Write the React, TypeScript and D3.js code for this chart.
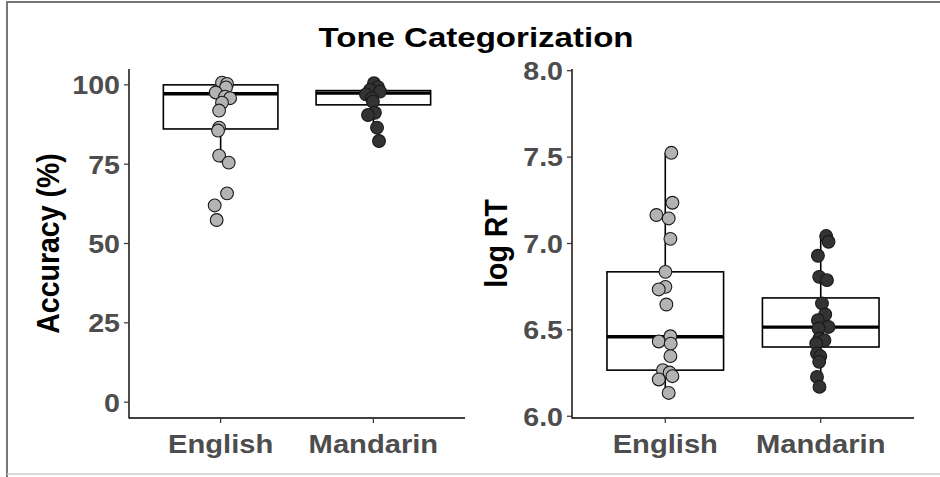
import React from 'react';
import * as d3 from 'd3';

// groups on the x axis
const categories = ['English', 'Mandarin'];

// accuracy (%) per participant
const accEnglish = [100.7, 100.3, 99.2, 97.6, 96.3, 95.8, 94.4, 91.9, 86.5, 85.6, 77.7, 75.5, 65.8, 62.0, 57.4];
const accEnglishJitter = [0.009, 0.042, 0.035, -0.032, 0.029, 0.062, 0.009, -0.01, -0.01, -0.017, -0.01, 0.053, 0.042, -0.039, -0.026];
const accMandarin = [100.5, 99.3, 98.4, 97.9, 97.0, 95.8, 94.7, 91.2, 90.5, 86.5, 82.3];
const accMandarinJitter = [0.004, 0.03, -0.022, 0.043, -0.048, -0.009, -0.003, 0.01, -0.035, 0.024, 0.037];

// box stats for accuracy, [English, Mandarin]
const accLow = [75.5, 86.5];
const accQ1 = [86.1, 93.7];
const accMedian = [97.2, 97.4];
const accQ3 = [100, 98.2];
const accHigh = [100, 100.5];
const accTicks = [0, 25, 50, 75, 100];

// log RT per participant
const rtEnglish = [7.525, 7.236, 7.165, 7.145, 7.027, 6.836, 6.749, 6.734, 6.647, 6.463, 6.433, 6.42, 6.348, 6.267, 6.253, 6.232, 6.213, 6.135];
const rtEnglishJitter = [0.039, 0.046, -0.057, 0.022, 0.033, 0.001, 0.001, -0.042, 0.007, 0.033, -0.042, 0.035, 0.033, -0.015, 0.028, 0.046, -0.042, 0.022];
const rtMandarin = [7.043, 7.01, 6.929, 6.807, 6.788, 6.653, 6.589, 6.556, 6.517, 6.508, 6.45, 6.44, 6.421, 6.363, 6.348, 6.315, 6.228, 6.17];
const rtMandarinJitter = [0.035, 0.05, -0.018, -0.01, 0.04, 0.008, 0.029, -0.018, 0.05, -0.014, -0.008, 0.024, -0.029, -0.024, -0.003, -0.01, -0.024, -0.008];

const rtLow = [6.135, 6.17];
const rtQ1 = [6.267, 6.401];
const rtMedian = [6.46, 6.516];
const rtQ3 = [6.836, 6.685];
const rtHigh = [7.525, 7.043];
const rtTicks = [6.0, 6.5, 7.0, 7.5, 8.0];

const FONT = '"Liberation Sans", Arial, Helvetica, sans-serif';
const fills = ['#b3b3b3', '#333333'];
// the original figure is a bit stretched sideways
const STRETCH = 1.1;

type PanelProps = {
  left: number;
  right: number;
  top: number;
  bottom: number;
  domain: [number, number];
  ticks: number[];
  fmt: (d: number) => string;
  title: string;
  titleX: number;
  points: number[][];
  jitter: number[][];
  low: number[];
  q1: number[];
  med: number[];
  q3: number[];
  high: number[];
};

function Panel(p: PanelProps) {
  const y = d3.scaleLinear().domain(p.domain).range([p.bottom, p.top]);
  // discrete axis: categories at 1 and 2, expanded by 0.6 on each side
  const x = d3.scaleLinear().domain([0.4, 2.6]).range([p.left, p.right]);
  const step = x(2) - x(1);
  const bw = step * 0.75;

  return (
    <g>
      {/* boxes */}
      {categories.map((c, i) => {
        const cx = x(i + 1);
        return (
          <g key={'box' + c} stroke="#000" fill="none">
            <line x1={cx} x2={cx} y1={y(p.q3[i])} y2={y(p.high[i])} strokeWidth={1.6} />
            <line x1={cx} x2={cx} y1={y(p.q1[i])} y2={y(p.low[i])} strokeWidth={1.6} />
            <rect x={cx - bw / 2} width={bw} y={y(p.q3[i])} height={y(p.q1[i]) - y(p.q3[i])} fill="#fff" strokeWidth={1.6} />
            <line x1={cx - bw / 2} x2={cx + bw / 2} y1={y(p.med[i])} y2={y(p.med[i])} strokeWidth={3.4} />
          </g>
        );
      })}
      {/* jittered points */}
      {categories.map((c, i) =>
        p.points[i].map((v, j) => (
          <circle key={c + j} cx={x(i + 1 + p.jitter[i][j])} cy={y(v)} r={6.4}
            fill={fills[i]} stroke="#1a1a1a" strokeWidth={1.1} />
        ))
      )}
      {/* axes */}
      <line x1={p.left} x2={p.left} y1={p.top} y2={p.bottom + 0.5} stroke="#000" strokeWidth={1.4} />
      <line x1={p.left} x2={p.right} y1={p.bottom} y2={p.bottom} stroke="#000" strokeWidth={1.4} />
      {p.ticks.map(t => (
        <g key={'yt' + t}>
          <line x1={p.left - 5} x2={p.left} y1={y(t)} y2={y(t)} stroke="#333" strokeWidth={1.2} />
          <text transform={`translate(${p.left - 9},${y(t)}) scale(${STRETCH},1)`} dy="0.36em" textAnchor="end" fill="#4d4d4d"
            fontFamily={FONT} fontWeight="bold" fontSize={26}>{p.fmt(t)}</text>
        </g>
      ))}
      {categories.map((c, i) => (
        <g key={'xt' + c}>
          <line x1={x(i + 1)} x2={x(i + 1)} y1={p.bottom} y2={p.bottom + 5} stroke="#333" strokeWidth={1.2} />
          <text transform={`translate(${x(i + 1)},${p.bottom + 35}) scale(${STRETCH},1)`} textAnchor="middle" fill="#4d4d4d"
            fontFamily={FONT} fontWeight="bold" fontSize={26.5}>{c}</text>
        </g>
      ))}
      <text transform={`translate(${p.titleX},${(p.top + p.bottom) / 2}) rotate(-90) scale(1,${STRETCH})`} textAnchor="middle"
        fontFamily={FONT} fontWeight="bold" fontSize={28.5} fill="#000">{p.title}</text>
    </g>
  );
}

export default function App() {
  const top = 69;
  const bottom = 418;
  return (
    <svg width={940} height={477} style={{ position: 'absolute', left: 0, top: 0, background: '#fff' }}>
      <path d="M7,477 L7,2 L940,2" fill="none" stroke="#777" strokeWidth={2} />
      <line x1={7} x2={940} y1={474} y2={474} stroke="#ccc" strokeWidth={1.5} />
      <text transform="translate(476,47) scale(1.18,1)" textAnchor="middle" fontFamily={FONT} fontWeight="bold" fontSize={28} fill="#000">
        Tone Categorization
      </text>
      <Panel left={129} right={465} top={top} bottom={bottom} domain={[-5, 105]} ticks={accTicks}
        fmt={d3.format('d')} title="Accuracy (%)" titleX={59}
        points={[accEnglish, accMandarin]} jitter={[accEnglishJitter, accMandarinJitter]}
        low={accLow} q1={accQ1} med={accMedian} q3={accQ3} high={accHigh} />
      <Panel left={572} right={914} top={top} bottom={bottom} domain={[5.99, 8.01]} ticks={rtTicks}
        fmt={d3.format('.1f')} title="log RT" titleX={507}
        points={[rtEnglish, rtMandarin]} jitter={[rtEnglishJitter, rtMandarinJitter]}
        low={rtLow} q1={rtQ1} med={rtMedian} q3={rtQ3} high={rtHigh} />
    </svg>
  );
}
